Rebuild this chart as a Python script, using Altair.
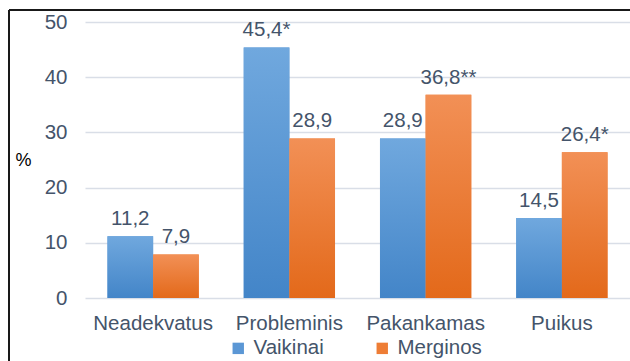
import altair as alt
import pandas as pd

categories = ["Neadekvatus", "Probleminis", "Pakankamas", "Puikus"]
series = ["Vaikinai", "Merginos"]
vaikinai = [11.2, 45.4, 28.9, 14.5]
merginos = [7.9, 28.9, 36.8, 26.4]
vaikinai_labels = ["11,2", "45,4*", "28,9", "14,5"]
merginos_labels = ["7,9", "28,9", "36,8**", "26,4*"]
y_ticks = [0, 10, 20, 30, 40, 50]

rows = []
for i, c in enumerate(categories):
    rows.append({"category": c, "series": series[0], "value": vaikinai[i], "label": vaikinai_labels[i]})
    rows.append({"category": c, "series": series[1], "value": merginos[i], "label": merginos_labels[i]})
df = pd.DataFrame(rows)

TEXT = "#44546A"
FONT = "Liberation Sans"
FS = 20.5

blue_grad = {"gradient": "linear", "x1": 0, "y1": 0, "x2": 0, "y2": 1,
             "stops": [{"offset": 0, "color": "#70A8DE"}, {"offset": 1, "color": "#4385C8"}]}
orange_grad = {"gradient": "linear", "x1": 0, "y1": 0, "x2": 0, "y2": 1,
               "stops": [{"offset": 0, "color": "#F29056"}, {"offset": 1, "color": "#E3691A"}]}

base = alt.Chart(df).encode(
    x=alt.X("category:N", sort=categories,
            scale=alt.Scale(paddingInner=0.33, paddingOuter=0.165),
            axis=alt.Axis(title=None, labelAngle=0, ticks=False, domain=False,
                          labelFontSize=FS, labelColor=TEXT, labelFont=FONT,
                          labelPadding=15)),
    xOffset=alt.XOffset("series:N", sort=series,
                        scale=alt.Scale(paddingInner=0, paddingOuter=0)),
    y=alt.Y("value:Q", scale=alt.Scale(domain=[0, 50], nice=False),
            axis=alt.Axis(values=y_ticks, grid=True, gridColor="#D9DEE7", gridWidth=1.3,
                          ticks=False, domain=False, labelFontSize=FS,
                          labelColor=TEXT, labelFont=FONT, labelPadding=18,
                          title="%", titleAngle=0, titleX=-62, titleY=138,
                          titleAlign="center", titleBaseline="middle",
                          titleFontSize=18, titleFont=FONT, titleFontWeight="normal",
                          titleColor="#000000")),
)

bars = base.mark_bar().encode(
    color=alt.Color("series:N", sort=series,
                    scale=alt.Scale(domain=series, range=["#5B97D5", "#EE7D35"]),
                    legend=alt.Legend(title=None, orient="none", direction="horizontal",
                                      legendX=143, legendY=316, symbolType="square",
                                      symbolSize=130, symbolStrokeWidth=0,
                                      labelFontSize=FS, labelColor=TEXT, labelFont=FONT,
                                      columnPadding=48, symbolOffset=0, labelOffset=5))
)
blue_bars = base.mark_bar(fill=blue_grad).transform_filter(alt.datum.series == series[0])
orange_bars = base.mark_bar(fill=orange_grad).transform_filter(alt.datum.series == series[1])

labels = base.mark_text(baseline="alphabetic", dy=-11, fontSize=FS, color=TEXT, font=FONT).encode(
    text="label:N"
)

border_top = alt.Chart(df).mark_rule(color="#1a1a1a", strokeWidth=1.6).encode(
    x=alt.value(-76), x2=alt.value(560), y=alt.value(-12)
)
border_left = alt.Chart(df).mark_rule(color="#1a1a1a", strokeWidth=1.6).encode(
    x=alt.value(-76), y=alt.value(-12), y2=alt.value(340)
)

chart = alt.layer(bars, blue_bars, orange_bars, labels, border_top, border_left).properties(
    width=545, height=276,
    autosize=alt.AutoSizeParams(type="none"),
    padding={"left": 85, "top": 22, "right": 0, "bottom": 63},
).configure_view(stroke=None)

chart.save("out.html", embed_options={"renderer": "svg", "actions": False})
